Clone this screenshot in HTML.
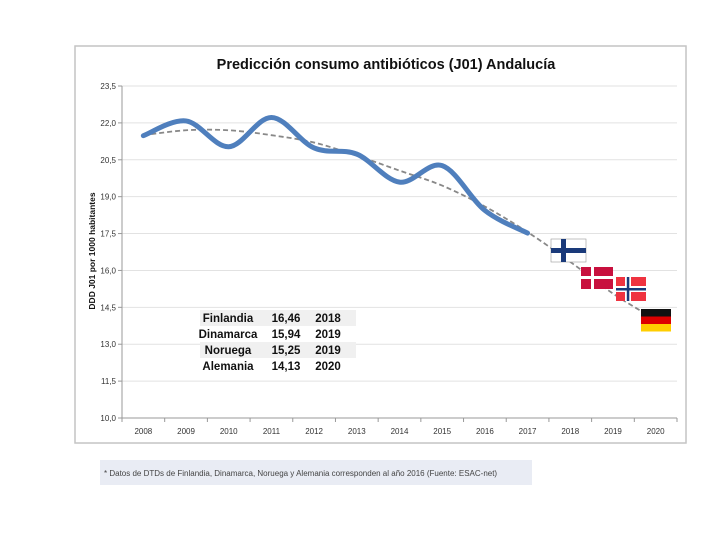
<!DOCTYPE html>
<html><head><meta charset="utf-8"><style>
body{margin:0;background:#fff;width:720px;height:540px;overflow:hidden;font-family:"Liberation Sans",sans-serif}
</style></head><body>
<svg width="720" height="540" style="position:absolute;left:0;top:0">
<rect x="75" y="46" width="611" height="397" fill="#fff" stroke="#c4c4c4" stroke-width="1.5"/>
<text x="386" y="69" text-anchor="middle" font-size="14.5" font-weight="bold" fill="#111">Predicción consumo antibióticos (J01) Andalucía</text>
<text transform="translate(95,251) rotate(-90)" text-anchor="middle" font-size="8.5" font-weight="bold" fill="#111">DDD J01 por 1000 habitantes</text>
<g id="grid"></g><g id="axes"></g><g id="series"></g>
<g font-size="11.5" fill="#111" font-weight="bold">
<rect x="200" y="310" width="156" height="16" fill="#f0f0f0"/>
<rect x="200" y="342" width="156" height="16" fill="#f0f0f0"/>
<text x="228" y="322" text-anchor="middle">Finlandia</text><text x="286" y="322" text-anchor="middle">16,46</text><text x="328" y="322" text-anchor="middle">2018</text>
<text x="228" y="338" text-anchor="middle">Dinamarca</text><text x="286" y="338" text-anchor="middle">15,94</text><text x="328" y="338" text-anchor="middle">2019</text>
<text x="228" y="354" text-anchor="middle">Noruega</text><text x="286" y="354" text-anchor="middle">15,25</text><text x="328" y="354" text-anchor="middle">2019</text>
<text x="228" y="370" text-anchor="middle">Alemania</text><text x="286" y="370" text-anchor="middle">14,13</text><text x="328" y="370" text-anchor="middle">2020</text>
</g>
<g><rect x="551" y="239" width="35" height="23" fill="#fff" stroke="#999" stroke-width="0.6"/><rect x="551" y="248" width="35" height="5" fill="#1a3a7a"/><rect x="561" y="239" width="5" height="23" fill="#1a3a7a"/></g>
<g><rect x="581" y="267" width="32" height="22" fill="#c8103e"/><rect x="581" y="276" width="32" height="3" fill="#fff"/><rect x="591" y="267" width="3" height="22" fill="#fff"/></g>
<g><rect x="616" y="277" width="30" height="24" fill="#ef3340"/><rect x="616" y="286" width="30" height="6" fill="#fff"/><rect x="625" y="277" width="6" height="24" fill="#fff"/><rect x="616" y="288" width="30" height="2.5" fill="#1a3a7a"/><rect x="626.8" y="277" width="2.5" height="24" fill="#1a3a7a"/></g>
<g><rect x="641" y="309" width="30" height="7.5" fill="#111"/><rect x="641" y="316.5" width="30" height="7.5" fill="#dd0000"/><rect x="641" y="324" width="30" height="7.5" fill="#ffce00"/></g>
<rect x="100" y="460" width="432" height="25" fill="#e9ecf4"/>
<text x="104" y="476" font-size="8" fill="#444">* Datos de DTDs de Finlandia, Dinamarca, Noruega y Alemania corresponden al año 2016 (Fuente: ESAC-net)</text>
</svg>
<script>
const years=['2008','2009','2010','2011','2012','2013','2014','2015','2016','2017','2018','2019','2020'];
const actual=[21.48,22.08,21.03,22.22,20.98,20.73,19.59,20.26,18.44,17.52];
const trend=[21.5,21.7,21.7,21.5,21.2,20.67,20.06,19.45,18.6,17.56,16.35,15.06,14.0];
const yTicks=[10,11.5,13,14.5,16,17.5,19,20.5,22,23.5];
const yLabels=['10,0','11,5','13,0','14,5','16,0','17,5','19,0','20,5','22,0','23,5'];
const L=122,R=677,T=86,B=418,ymin=10,ymax=23.5;
const band=(R-L)/years.length;
const xs=i=>L+band*(i+0.5);
const ys=v=>B-(v-ymin)/(ymax-ymin)*(B-T);
const NS='http://www.w3.org/2000/svg';
function mk(t,a,p){const e=document.createElementNS(NS,t);for(const k in a)e.setAttribute(k,a[k]);p.appendChild(e);return e;}
const grid=document.getElementById('grid'),axes=document.getElementById('axes'),ser=document.getElementById('series');
yTicks.forEach((v,i)=>{
 const g=mk('line',{x1:L,x2:R,y1:ys(v),y2:ys(v),stroke:i?'#e2e2e2':'#999','stroke-width':1},grid);
 
 
 mk('line',{x1:L-4,x2:L,y1:ys(v),y2:ys(v),stroke:'#999'},axes);
 const t=mk('text',{x:L-6,y:ys(v)+3,'text-anchor':'end','font-size':'8',fill:'#333'},axes);
 t.textContent=yLabels[i];
 
 
});
mk('line',{x1:L,x2:L,y1:T,y2:B,stroke:'#999'},axes);
for(let i=0;i<=years.length;i++)mk('line',{x1:L+band*i,x2:L+band*i,y1:B,y2:B+4,stroke:'#999'},axes);
years.forEach((y,i)=>{
 const t=mk('text',{x:xs(i),y:B+16,'text-anchor':'middle','font-size':'8',fill:'#333'},axes);
 t.textContent=y;
 
 
});
function smooth(vals){
 const p=vals.map((v,i)=>[xs(i),ys(v)]);
 let d='M'+p[0][0]+','+p[0][1];
 for(let i=0;i<p.length-1;i++){
  const p0=p[i-1]||p[i],p1=p[i],p2=p[i+1],p3=p[i+2]||p2;
  d+=' C'+(p1[0]+(p2[0]-p0[0])/6)+','+(p1[1]+(p2[1]-p0[1])/6)+' '+(p2[0]-(p3[0]-p1[0])/6)+','+(p2[1]-(p3[1]-p1[1])/6)+' '+p2[0]+','+p2[1];
 }
 return d;
}
const tl=mk('path',{d:smooth(trend),fill:'none',stroke:'#888','stroke-width':1.8,'stroke-dasharray':'5,3'},ser);


const al=mk('path',{d:smooth(actual),fill:'none',stroke:'#4f7fbd','stroke-width':5,'stroke-linecap':'round'},ser);


</script>
</body></html>
